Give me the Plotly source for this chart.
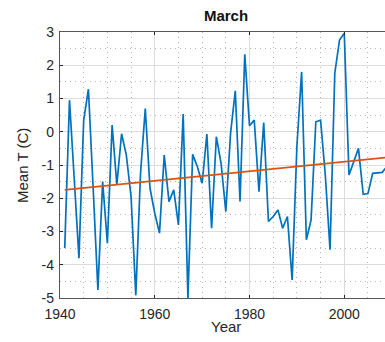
import plotly.graph_objects as go

# Mean March temperature by year
years = list(range(1941, 2010))
mean_t = [
    -3.5, 0.95, -1.4, -3.8, 0.35, 1.28, -1.7, -4.76, -1.5, -3.35,
    0.2, -1.6, -0.06, -0.7, -1.95, -4.92, -1.25, 0.7, -1.7, -2.45,
    -3.05, -0.7, -2.1, -1.75, -2.8, 0.53, -5.0, -0.68, -1.05, -1.55,
    -0.07, -2.9, -0.15, -0.95, -2.4, -0.05, 1.23, -2.1, 2.33, 0.18,
    0.35, -1.8, 0.28, -2.7, -2.55, -2.35, -2.9, -2.55, -4.46, -0.45,
    1.8, -3.25, -2.65, 0.3, 0.35, -1.3, -3.55, 1.76, 2.76, 2.96,
    -1.3, -0.9, -0.5, -1.88, -1.86, -1.25, -1.24, -1.22, -1.05,
]

# Linear trend end points
trend_years = [1941, 2010]
trend_values = [-1.75, -0.76]

# Axis ticks
x_ticks = [1940, 1960, 1980, 2000]
x_ticklabels = ["1940", "1960", "1980", "2000"]
y_ticks = [-5, -4, -3, -2, -1, 0, 1, 2, 3]
y_ticklabels = ["-5", "-4", "-3", "-2", "-1", "0", "1", "2", "3"]

BLUE = "#0072BD"
ORANGE = "#D95319"
INK = "#262626"

fig = go.Figure()
fig.add_trace(go.Scatter(x=years, y=mean_t, mode="lines",
                         line=dict(color=BLUE, width=1.7), hoverinfo="skip"))
fig.add_trace(go.Scatter(x=trend_years, y=trend_values, mode="lines",
                         line=dict(color=ORANGE, width=1.7), hoverinfo="skip"))

axis_common = dict(
    showline=True, linecolor="#555555", linewidth=1.3,
    ticks="inside", ticklen=3, tickcolor=INK, tickwidth=1,
    showgrid=True, gridcolor="#dcdcdc", gridwidth=1,
    zeroline=False,
)

fig.update_xaxes(
    range=[1940, 2008.6],
    tickmode="array", tickvals=x_ticks, ticktext=x_ticklabels,
    mirror="ticks", ticklabelstandoff=3,
    tickfont=dict(size=14, color=INK),
    minor=dict(dtick=5, tick0=1940, showgrid=True, griddash="1px,4px",
               gridcolor="#b5b5b5", gridwidth=1, ticks=""),
    **axis_common,
)
fig.update_yaxes(
    range=[-5, 3],
    tickmode="array", tickvals=y_ticks, ticktext=y_ticklabels,
    mirror=False, ticklabelstandoff=2,
    tickfont=dict(size=14, color=INK),
    minor=dict(dtick=0.5, tick0=0, showgrid=True, griddash="1px,4px",
               gridcolor="#b5b5b5", gridwidth=1, ticks=""),
    **axis_common,
)

fig.update_layout(
    width=385, height=342,
    margin=dict(l=60, r=0, t=32, b=44),
    plot_bgcolor="white", paper_bgcolor="white",
    font=dict(family="Liberation Sans, Arial, sans-serif", size=14, color=INK),
    showlegend=False,
    title=dict(text="<b>March</b>", x=226 / 385, xanchor="center",
               xref="container", y=1 - 16 / 342, yanchor="middle",
               yref="container", font=dict(size=15, color="#111111")),
    annotations=[
        dict(text="Year", x=0.511, y=-0.108, xref="paper", yref="paper",
             xanchor="center", yanchor="middle", showarrow=False,
             font=dict(size=15, color=INK)),
        dict(text="Mean T (C)", x=-0.117, y=0.5, xref="paper", yref="paper",
             xanchor="center", yanchor="middle", showarrow=False,
             textangle=-90, font=dict(size=15, color=INK)),
    ],
)

fig.write_html("out.html")
